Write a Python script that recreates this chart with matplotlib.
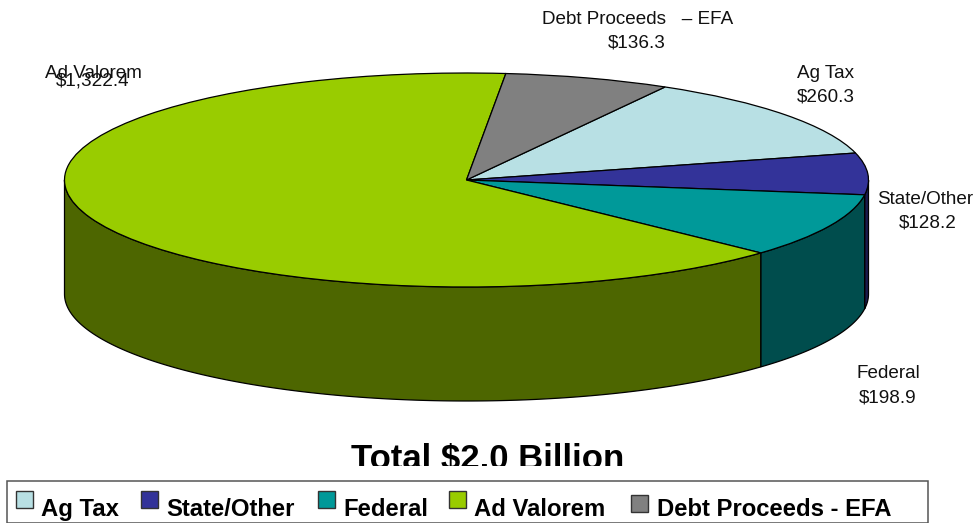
import numpy as np
import matplotlib
matplotlib.use("Agg")
import matplotlib.pyplot as plt
from matplotlib.patches import Rectangle

plt.rcParams['font.family'] = ['Liberation Sans', 'DejaVu Sans']

categories = ["Ag Tax", "State/Other", "Federal", "Ad Valorem", "Debt Proceeds - EFA"]
values = [260.3, 128.2, 198.9, 1322.4, 136.3]
top_colors = ["#B8E0E4", "#333399", "#009999", "#99CC00", "#808080"]
side_colors = ["#5C7072", "#1A1A4D", "#004D4D", "#4D6600", "#404040"]
label_names = ["Ag Tax", "State/Other", "Federal", "Ad Valorem", "Debt Proceeds   – EFA"]
label_values = ["$260.3", "$128.2", "$198.9", "$1,322.4", "$136.3"]
W, H = 977, 523
CX, CY, RX, RY, DEPTH = 466.5, 180, 402, 107, 114
START = 60.4
name_pos = [(826, 73), (925.5, 200), (888, 373), (93, 73), (637.5, 19)]
value_pos = [(826, 97), (928, 223), (888, 398), (92.5, 81.5), (637, 43)]
LABEL_SIZE = 13.6

fig = plt.figure(figsize=(W / 100, H / 100), dpi=100, facecolor="white")
ax = fig.add_axes([0, 0, 1, 1])
ax.pie(values, colors=top_colors, startangle=START, counterclock=False, radius=1,
       wedgeprops=dict(edgecolor="black", linewidth=0.9, zorder=5))
ax.set_aspect("auto")
ax.set_xlim((0 - CX) / RX, (W - CX) / RX)
ax.set_ylim((CY - H) / RY, CY / RY)

# Visible front wall of the pie, segment by segment
d = DEPTH / RY
edges = START - np.cumsum([0] + values) / np.sum(values) * 360
for a0, a1, c in zip(edges[:-1], edges[1:], side_colors):
    lo, hi = max(a1, -180), min(a0, 0)
    if lo >= hi:
        continue
    t = np.radians(np.linspace(hi, lo, 200))
    x, y = np.cos(t), np.sin(t)
    ax.fill(np.r_[x, x[::-1]], np.r_[y, y[::-1] - d], facecolor=c,
            edgecolor="black", linewidth=0.9, zorder=3)

# Overlay in pixel coordinates for text and legend
ov = fig.add_axes([0, 0, 1, 1], facecolor="none")
ov.set_xlim(0, W); ov.set_ylim(H, 0); ov.axis("off")

for s, (x, y) in zip(label_names, name_pos):
    ov.text(x, y, s, ha="center", va="center", fontsize=LABEL_SIZE, color="#111111")
for s, (x, y) in zip(label_values, value_pos):
    ov.text(x, y, s, ha="center", va="center", fontsize=LABEL_SIZE, color="#111111")

title = ov.text(488, 469.5, "Total $2.0 Billion", ha="center", va="baseline",
                fontsize=25, fontweight="bold", color="black")
title.set_clip_path(Rectangle((0, 0), W, 466, transform=ov.transData))
title.set_clip_on(True)

ov.add_patch(Rectangle((7, 480.5), 921, 42, facecolor="white", edgecolor="#555555", linewidth=1.1))
swatch_x = [16, 141, 318, 448.5, 631]
swatch_y = [491, 491, 491, 491, 494.5]
text_x = [41, 166, 343, 473.5, 657]
for name, c, sx, sy, tx in zip(categories, top_colors, swatch_x, swatch_y, text_x):
    ov.add_patch(Rectangle((sx + 1, sy + 1), 17, 17, facecolor="#AAAAAA", edgecolor="none"))
    ov.add_patch(Rectangle((sx, sy), 17, 17, facecolor=c, edgecolor="#333333", linewidth=1))
    ov.text(tx, 516, name, ha="left", va="baseline", fontsize=17.2, fontweight="bold", color="black")

fig.savefig("out.png", dpi=100)
